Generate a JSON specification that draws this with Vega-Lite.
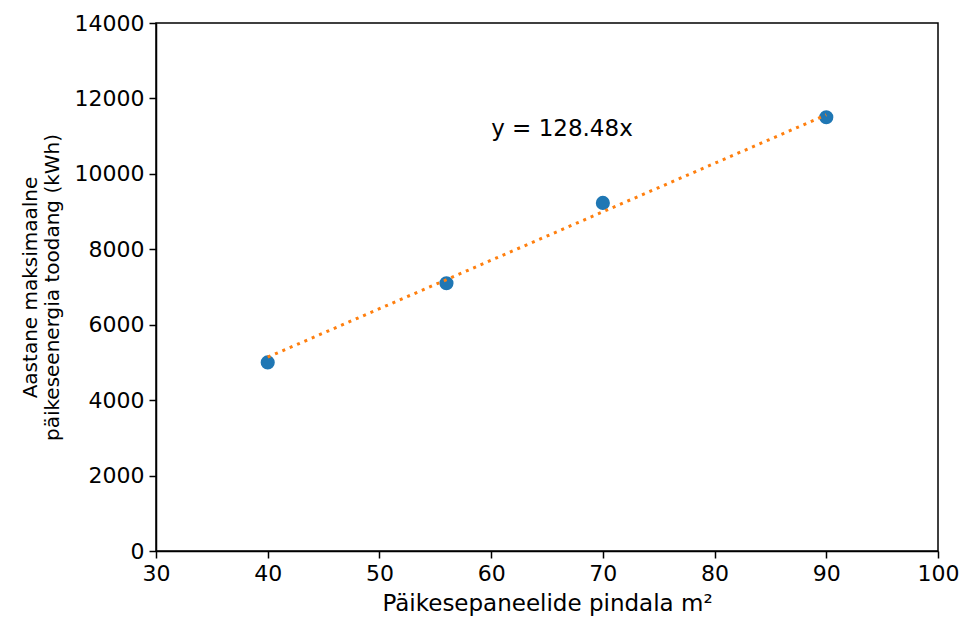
{
  "$schema": "https://vega.github.io/schema/vega-lite/v6.json",
  "width": 782,
  "height": 528,
  "autosize": "none",
  "padding": {"left": 156, "top": 23, "right": 24, "bottom": 73},
  "background": "white",
  "config": {
    "font": "DejaVu Sans",
    "view": {"stroke": "black", "strokeWidth": 1.5},
    "axis": {
      "grid": false,
      "domainColor": "black",
      "domainWidth": 1.5,
      "tickColor": "black",
      "tickWidth": 1.5,
      "tickSize": 7,
      "labelColor": "black",
      "labelFontSize": 22,
      "labelPadding": 5,
      "titleColor": "black",
      "titleFontSize": 20,
      "titleFontWeight": "normal",
      "labelFlush": false
    }
  },
  "datasets": {
    "pts": [
      {"area": 40, "energy": 5000},
      {"area": 56, "energy": 7100},
      {"area": 70, "energy": 9230},
      {"area": 90, "energy": 11500}
    ],
    "fit": [
      {"area": 40, "energy": 5139.2},
      {"area": 90, "energy": 11563.2}
    ],
    "label": [
      {"area": 60, "energy": 11000, "text": "y = 128.48x"}
    ]
  },
  "layer": [
    {
      "data": {"name": "pts"},
      "mark": {"type": "point", "filled": true, "opacity": 1, "size": 200, "color": "#1f77b4"},
      "encoding": {
        "x": {
          "field": "area", "type": "quantitative",
          "scale": {"domain": [30, 100], "nice": false, "zero": false},
          "axis": {"values": [30, 40, 50, 60, 70, 80, 90, 100], "title": "Päikesepaneelide pindala m²", "titleFontSize": 23, "titlePadding": 8}
        },
        "y": {
          "field": "energy", "type": "quantitative",
          "scale": {"domain": [0, 14000], "nice": false},
          "axis": {"values": [0, 2000, 4000, 6000, 8000, 10000, 12000, 14000], "format": "d", "title": ["Aastane maksimaalne", "päikeseenergia toodang (kWh)"], "titlePadding": 12, "titleLineHeight": 22}
        }
      }
    },
    {
      "data": {"name": "fit"},
      "mark": {"type": "line", "color": "#ff7f0e", "strokeWidth": 3, "strokeDash": [3, 5]},
      "encoding": {
        "x": {"field": "area", "type": "quantitative"},
        "y": {"field": "energy", "type": "quantitative"}
      }
    },
    {
      "data": {"name": "label"},
      "mark": {"type": "text", "align": "left", "baseline": "alphabetic", "fontSize": 23, "color": "black"},
      "encoding": {
        "x": {"field": "area", "type": "quantitative"},
        "y": {"field": "energy", "type": "quantitative"},
        "text": {"field": "text"}
      }
    }
  ]
}
